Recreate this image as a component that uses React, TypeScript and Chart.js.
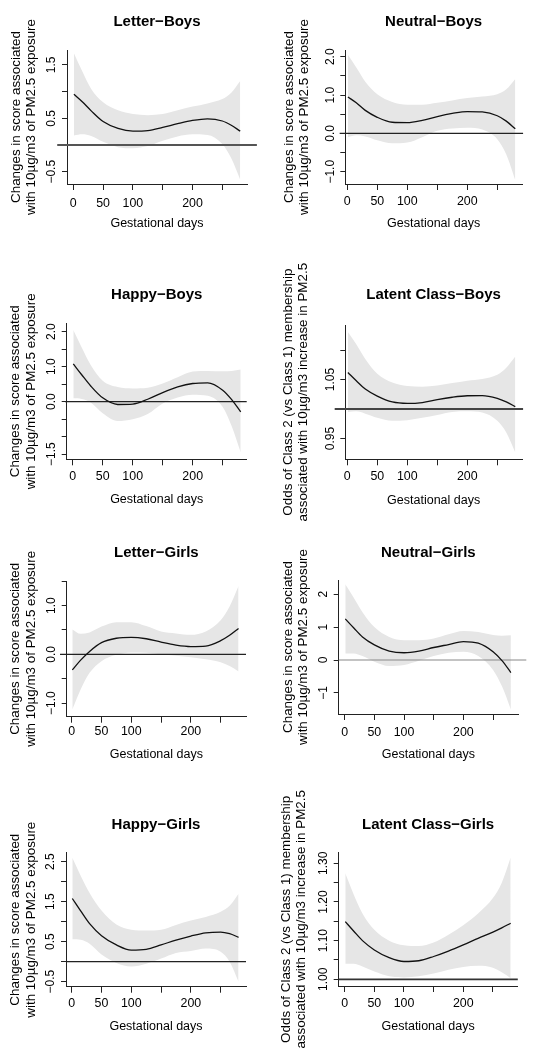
import React, { useEffect, useRef } from "react";
import { Chart, registerables } from "chart.js";
Chart.register(...registerables);

const FONT = "'Liberation Sans', Arial, Helvetica, sans-serif";

// ---------- data ----------
const days = [1, 15, 30, 50, 75, 100, 125, 150, 175, 200, 225, 250, 265, 280];
const xTicks = [0, 50, 100, 150, 200, 250];
const xTickLabels = ["0", "50", "100", "", "200", ""];
const xAxisTitle = "Gestational days";
const scoreTitle = ["Changes in score associated", "with 10\u00b5g/m3 of PM2.5 exposure"];
const oddsTitle = ["Odds of Class 2 (vs Class 1) membership", "associated with 10\u00b5g/m3 increase in PM2.5"];

const letterBoysFit = [0.95, 0.81, 0.64, 0.44, 0.31, 0.26, 0.27, 0.33, 0.40, 0.46, 0.49, 0.45, 0.37, 0.26];
const letterBoysUpper = [1.72, 1.38, 1.05, 0.80, 0.65, 0.58, 0.56, 0.58, 0.65, 0.72, 0.78, 0.86, 0.98, 1.2];
const letterBoysLower = [0.18, 0.2, 0.17, 0.06, -0.04, -0.06, -0.02, 0.08, 0.16, 0.2, 0.19, 0.02, -0.25, -0.65];
const letterBoysYTicks = [-0.5, 0, 0.5, 1, 1.5];
const letterBoysYLabels = ["\u22120.5", "", "0.5", "", "1.5"];

const neutralBoysFit = [0.95, 0.80, 0.60, 0.42, 0.29, 0.28, 0.34, 0.44, 0.52, 0.57, 0.56, 0.46, 0.32, 0.12];
const neutralBoysUpper = [2.05, 1.72, 1.35, 1.02, 0.82, 0.75, 0.75, 0.8, 0.86, 0.92, 0.96, 1.02, 1.15, 1.42];
const neutralBoysLower = [-0.1, -0.05, -0.08, -0.18, -0.26, -0.24, -0.1, 0.07, 0.13, 0.15, 0.1, -0.15, -0.55, -1.22];
const neutralBoysYTicks = [-1, -0.5, 0, 0.5, 1, 1.5, 2];
const neutralBoysYLabels = ["\u22121.0", "", "0.0", "", "1.0", "", "2.0"];

const happyBoysFit = [1.08, 0.77, 0.45, 0.11, -0.08, -0.07, 0.07, 0.26, 0.42, 0.52, 0.54, 0.33, 0.06, -0.29];
const happyBoysUpper = [2.05, 1.55, 1.05, 0.6, 0.42, 0.38, 0.4, 0.52, 0.7, 0.86, 0.88, 0.87, 0.88, 0.92];
const happyBoysLower = [0.1, 0.08, -0.02, -0.33, -0.55, -0.5, -0.35, -0.05, 0.12, 0.2, 0.17, -0.15, -0.7, -1.45];
const happyBoysYTicks = [-1.5, -1, -0.5, 0, 0.5, 1, 1.5, 2];
const happyBoysYLabels = ["\u22121.5", "", "", "0.0", "", "1.0", "", "2.0"];

const latentBoysFit = [1.062, 1.048, 1.034, 1.022, 1.012, 1.0095, 1.011, 1.016, 1.020, 1.0225, 1.0228, 1.018, 1.012, 1.004];
const latentBoysUpper = [1.131, 1.11, 1.085, 1.06, 1.045, 1.039, 1.038, 1.04, 1.044, 1.048, 1.051, 1.058, 1.07, 1.089];
const latentBoysLower = [0.995, 0.996, 0.992, 0.985, 0.98, 0.981, 0.985, 0.99, 0.995, 0.996, 0.994, 0.98, 0.96, 0.926];
const latentBoysYTicks = [0.95, 1.0, 1.05, 1.1];
const latentBoysYLabels = ["0.95", "", "1.05", ""];

const letterGirlsFit = [-0.32, -0.12, 0.06, 0.24, 0.33, 0.35, 0.32, 0.25, 0.19, 0.16, 0.17, 0.28, 0.39, 0.53];
const letterGirlsUpper = [0.51, 0.42, 0.45, 0.57, 0.66, 0.66, 0.58, 0.47, 0.43, 0.4, 0.47, 0.7, 0.98, 1.4];
const letterGirlsLower = [-1.13, -0.72, -0.38, -0.14, -0.01, 0.04, 0.03, 0.0, -0.03, -0.06, -0.1, -0.16, -0.24, -0.35];
const letterGirlsYTicks = [-1, -0.5, 0, 0.5, 1, 1.5];
const letterGirlsYLabels = ["\u22121.0", "", "0.0", "", "1.0", ""];

const neutralGirlsFit = [1.25, 0.98, 0.7, 0.46, 0.27, 0.22, 0.27, 0.38, 0.47, 0.56, 0.51, 0.25, -0.02, -0.38];
const neutralGirlsUpper = [2.3, 1.9, 1.45, 1.0, 0.7, 0.6, 0.6, 0.65, 0.78, 0.88, 0.85, 0.76, 0.74, 0.75];
const neutralGirlsLower = [0.2, 0.2, 0.12, -0.05, -0.18, -0.15, -0.02, 0.12, 0.22, 0.25, 0.12, -0.3, -0.8, -1.5];
const neutralGirlsYTicks = [-1, 0, 1, 2];
const neutralGirlsYLabels = ["\u22121", "0", "1", "2"];

const happyGirlsFit = [1.58, 1.27, 0.95, 0.65, 0.42, 0.29, 0.31, 0.42, 0.54, 0.64, 0.72, 0.74, 0.7, 0.61];
const happyGirlsUpper = [2.6, 2.15, 1.72, 1.28, 0.93, 0.8, 0.78, 0.8, 0.92, 1.03, 1.12, 1.25, 1.4, 1.7];
const happyGirlsLower = [0.56, 0.55, 0.45, 0.18, -0.03, -0.12, -0.05, 0.08, 0.22, 0.27, 0.33, 0.25, 0.0, -0.5];
const happyGirlsYTicks = [-0.5, 0, 0.5, 1, 1.5, 2, 2.5];
const happyGirlsYLabels = ["\u22120.5", "", "0.5", "", "1.5", "", "2.5"];

const latentGirlsFit = [1.149, 1.125, 1.10, 1.076, 1.056, 1.046, 1.048, 1.059, 1.073, 1.089, 1.106, 1.122, 1.133, 1.145];
const latentGirlsUpper = [1.274, 1.22, 1.17, 1.128, 1.1, 1.088, 1.086, 1.095, 1.115, 1.14, 1.17, 1.21, 1.25, 1.315];
const latentGirlsLower = [1.04, 1.04, 1.033, 1.02, 1.008, 1.005, 1.008, 1.015, 1.025, 1.032, 1.035, 1.03, 1.018, 1.003];
const latentGirlsYTicks = [1.0, 1.05, 1.1, 1.15, 1.2, 1.25, 1.3];
const latentGirlsYLabels = ["1.00", "", "1.10", "", "1.20", "", "1.30"];

// ---------- layout (page pixels) ----------
type PanelCfg = {
  title: string; fit: number[]; upper: number[]; lower: number[];
  yTicks: number[]; yLabels: string[]; yTitle: string[]; ref: number; refSpan: number[];
  refColor: string; refWidth: number;
  colX: number; rowY: number; H: number; L: number; R: number; T: number; B: number;
  titleY: number; tickY: number; xTitleY: number; yTitleX: number;
  xMin: number; xMax: number; yMin: number; yMax: number;
};

const panels: PanelCfg[] = [
  { title: "Letter\u2212Boys", fit: letterBoysFit, upper: letterBoysUpper, lower: letterBoysLower,
    yTicks: letterBoysYTicks, yLabels: letterBoysYLabels, yTitle: scoreTitle, ref: 0, refSpan: [-27, 308],
    refColor: "#555", refWidth: 2,
    colX: 0, rowY: 0, H: 275, L: 67, R: 247, T: 50, B: 184, titleY: 20, tickY: 202, xTitleY: 222, yTitleX: 16,
    xMin: -10.6, xMax: 291.4, yMin: -0.73, yMax: 1.78 },
  { title: "Neutral\u2212Boys", fit: neutralBoysFit, upper: neutralBoysUpper, lower: neutralBoysLower,
    yTicks: neutralBoysYTicks, yLabels: neutralBoysYLabels, yTitle: scoreTitle, ref: 0, refSpan: [-12.7, 293],
    refColor: "#222", refWidth: 1.2,
    colX: 269, rowY: 0, H: 275, L: 345.3, R: 522, T: 50, B: 184, titleY: 20, tickY: 200, xTitleY: 222, yTitleX: 289,
    xMin: -3.3, xMax: 291.2, yMin: -1.32, yMax: 2.175 },
  { title: "Happy\u2212Boys", fit: happyBoysFit, upper: happyBoysUpper, lower: happyBoysLower,
    yTicks: happyBoysYTicks, yLabels: happyBoysYLabels, yTitle: scoreTitle, ref: 0, refSpan: [-12.8, 290],
    refColor: "#222", refWidth: 1.2,
    colX: 0, rowY: 260, H: 275, L: 66.7, R: 246.7, T: 323.3, B: 459.3, titleY: 293.3, tickY: 475, xTitleY: 497.3, yTitleX: 15.8,
    xMin: -10, xMax: 290, yMin: -1.646, yMax: 2.24 },
  { title: "Latent Class\u2212Boys", fit: latentBoysFit, upper: latentBoysUpper, lower: latentBoysLower,
    yTicks: latentBoysYTicks, yLabels: latentBoysYLabels, yTitle: oddsTitle, ref: 1, refSpan: [-21, 293],
    refColor: "#444", refWidth: 1.8,
    colX: 269, rowY: 260, H: 275, L: 345.3, R: 522, T: 325, B: 459.3, titleY: 293.3, tickY: 474.3, xTitleY: 498.3, yTitleX: 288.3,
    xMin: -3.3, xMax: 291.2, yMin: 0.9146, yMax: 1.1427 },
  { title: "Letter\u2212Girls", fit: letterGirlsFit, upper: letterGirlsUpper, lower: letterGirlsLower,
    yTicks: letterGirlsYTicks, yLabels: letterGirlsYLabels, yTitle: scoreTitle, ref: 0, refSpan: [-19.6, 292.5],
    refColor: "#222", refWidth: 1.2,
    colX: 0, rowY: 520, H: 275, L: 66.7, R: 246, T: 581, B: 716.7, titleY: 550.7, tickY: 730, xTitleY: 752.3, yTitleX: 15.8,
    xMin: -8.4, xMax: 292.5, yMin: -1.28, yMax: 1.505 },
  { title: "Neutral\u2212Girls", fit: neutralGirlsFit, upper: neutralGirlsUpper, lower: neutralGirlsLower,
    yTicks: neutralGirlsYTicks, yLabels: neutralGirlsYLabels, yTitle: scoreTitle, ref: 0, refSpan: [-10, 306],
    refColor: "#888", refWidth: 1,
    colX: 269, rowY: 520, H: 275, L: 338.7, R: 518, T: 580, B: 714, titleY: 550.7, tickY: 730.7, xTitleY: 752.7, yTitleX: 288,
    xMin: -10.1, xMax: 292, yMin: -1.64, yMax: 2.43 },
  { title: "Happy\u2212Girls", fit: happyGirlsFit, upper: happyGirlsUpper, lower: happyGirlsLower,
    yTicks: happyGirlsYTicks, yLabels: happyGirlsYLabels, yTitle: scoreTitle, ref: 0, refSpan: [-9.6, 292.5],
    refColor: "#222", refWidth: 1.2,
    colX: 0, rowY: 780, H: 270, L: 66, R: 246, T: 852.7, B: 986.7, titleY: 822.7, tickY: 1001.7, xTitleY: 1025, yTitleX: 15.8,
    xMin: -9.6, xMax: 292.5, yMin: -0.625, yMax: 2.725 },
  { title: "Latent Class\u2212Girls", fit: latentGirlsFit, upper: latentGirlsUpper, lower: latentGirlsLower,
    yTicks: latentGirlsYTicks, yLabels: latentGirlsYLabels, yTitle: oddsTitle, ref: 1, refSpan: [-10, 292],
    refColor: "#333", refWidth: 1.8,
    colX: 269, rowY: 780, H: 270, L: 338.7, R: 517.5, T: 852.7, B: 986, titleY: 823.3, tickY: 1001.7, xTitleY: 1025, yTitleX: 286.3,
    xMin: -10.1, xMax: 291.5, yMin: 0.9827, yMax: 1.3274 },
];

const CANVAS_W = 269;
const TITLE_SIZE = 15;
const TITLE_LH = 18;
const X_TICK_SIZE = 12.4;
const Y_TICK_SIZE = 12;
const X_TITLE_SIZE = 12.5;
const X_TITLE_LH = 15;
const Y_TITLE_SIZE = 13.4;
const Y_TITLE_LH = 15.5;
const X_TL = 6;
const Y_TL = 5;
const Y_LABEL_OFFSET = 15;
const TEXT_DY = 2;
const AXIS_COLOR = "#222";

function measureWidest(labels: string[], size: number) {
  const ctx = document.createElement("canvas").getContext("2d")!;
  ctx.font = `normal ${size}px ${FONT}`;
  let w = 0;
  for (const l of labels) if (l) w = Math.max(w, ctx.measureText(l).width);
  return w;
}

function Panel({ p }: { p: PanelCfg }) {
  const ref = useRef<HTMLCanvasElement | null>(null);
  const H = p.H;

  useEffect(() => {
    const canvas = ref.current;
    if (!canvas) return;
    const relL = p.L - p.colX;
    const relR = p.R - p.colX;
    const relT = p.T - p.rowY;
    const relB = p.B - p.rowY;
    const titlePT = p.titleY + TEXT_DY - p.rowY - TITLE_LH / 2;
    const titlePB = relT - titlePT - TITLE_LH;
    const xTitlePB = H - (p.xTitleY + TEXT_DY - p.rowY) - X_TITLE_LH / 2;
    const xTickPad = p.tickY + TEXT_DY - p.B - X_TL - (X_TICK_SIZE * 1.2) / 2;
    const widest = measureWidest(p.yLabels, Y_TICK_SIZE);
    const yTickPad = Y_LABEL_OFFSET - Y_TL - widest / 2;
    const yTitlePT = p.yTitleX - p.colX - Y_TITLE_LH / 2;

    const pts = (vals: number[]) => days.map((d, i) => ({ x: d, y: vals[i] }));

    const chart = new Chart(canvas, {
      type: "line",
      data: {
        datasets: [
          { data: pts(p.fit), borderColor: "#111", borderWidth: 1.3, pointRadius: 0, fill: false,
            cubicInterpolationMode: "monotone" },
          { data: [{ x: p.refSpan[0], y: p.ref }, { x: p.refSpan[1], y: p.ref }], borderColor: p.refColor,
            borderWidth: p.refWidth, pointRadius: 0, fill: false, clip: false },
          { data: pts(p.upper), borderWidth: 0, borderColor: "rgba(0,0,0,0)", pointRadius: 0, fill: "+1",
            backgroundColor: "#e6e6e6", cubicInterpolationMode: "monotone" },
          { data: pts(p.lower), borderWidth: 0, borderColor: "rgba(0,0,0,0)", pointRadius: 0, fill: false,
            cubicInterpolationMode: "monotone" },
        ],
      } as any,
      options: {
        animation: false,
        responsive: false,
        devicePixelRatio: 1,
        events: [],
        font: { family: FONT },
        layout: { padding: { left: 0, top: 0, bottom: 0, right: CANVAS_W - relR } },
        plugins: {
          legend: { display: false },
          tooltip: { enabled: false },
          title: {
            display: true,
            text: p.title,
            fullSize: false,
            color: "#000",
            font: { family: FONT, size: TITLE_SIZE, weight: "bold", lineHeight: `${TITLE_LH}px` },
            padding: { top: titlePT, bottom: titlePB },
          },
        },
        scales: {
          x: {
            type: "linear",
            position: "bottom",
            min: p.xMin,
            max: p.xMax,
            bounds: "data",
            afterBuildTicks: (s: any) => { s.ticks = xTicks.map((v) => ({ value: v })); },
            afterFit: (s: any) => { s.height = H - relB; },
            ticks: {
              autoSkip: false, maxRotation: 0, minRotation: 0, padding: xTickPad, color: "#000",
              font: { family: FONT, size: X_TICK_SIZE },
              callback: (_v: any, i: number) => xTickLabels[i],
            },
            grid: { display: true, drawOnChartArea: false, drawTicks: true, tickLength: X_TL,
              tickColor: AXIS_COLOR, tickWidth: 1, color: AXIS_COLOR, lineWidth: 1 },
            border: { display: true, color: AXIS_COLOR, width: 1 },
            title: { display: true, text: xAxisTitle, color: "#000",
              font: { family: FONT, size: X_TITLE_SIZE, lineHeight: `${X_TITLE_LH}px` },
              padding: { top: 0, bottom: xTitlePB } },
          },
          y: {
            type: "linear",
            position: "left",
            min: p.yMin,
            max: p.yMax,
            bounds: "data",
            afterBuildTicks: (s: any) => { s.ticks = p.yTicks.map((v) => ({ value: v })); },
            afterFit: (s: any) => { s.width = relL; },
            ticks: {
              autoSkip: false, minRotation: 90, maxRotation: 90, crossAlign: "center", padding: yTickPad,
              color: "#000", font: { family: FONT, size: Y_TICK_SIZE },
              callback: (_v: any, i: number) => p.yLabels[i],
            },
            grid: { display: true, drawOnChartArea: false, drawTicks: true, tickLength: Y_TL,
              tickColor: AXIS_COLOR, tickWidth: 1, color: AXIS_COLOR, lineWidth: 1 },
            border: { display: true, color: AXIS_COLOR, width: 1 },
            title: { display: true, text: p.yTitle, color: "#000",
              font: { family: FONT, size: Y_TITLE_SIZE, lineHeight: `${Y_TITLE_LH}px` },
              padding: { top: yTitlePT, bottom: 0 } },
          },
        },
      } as any,
    });
    return () => chart.destroy();
  }, []);

  return (
    <canvas
      ref={ref}
      width={CANVAS_W}
      height={H}
      style={{ position: "absolute", left: p.colX, top: p.rowY, width: CANVAS_W, height: H }}
    />
  );
}

export default function App() {
  return (
    <div style={{ position: "absolute", left: 0, top: 0, width: 538, height: 1050, background: "#fff", overflow: "hidden" }}>
      {panels.map((p, i) => (
        <Panel key={i} p={p} />
      ))}
    </div>
  );
}
